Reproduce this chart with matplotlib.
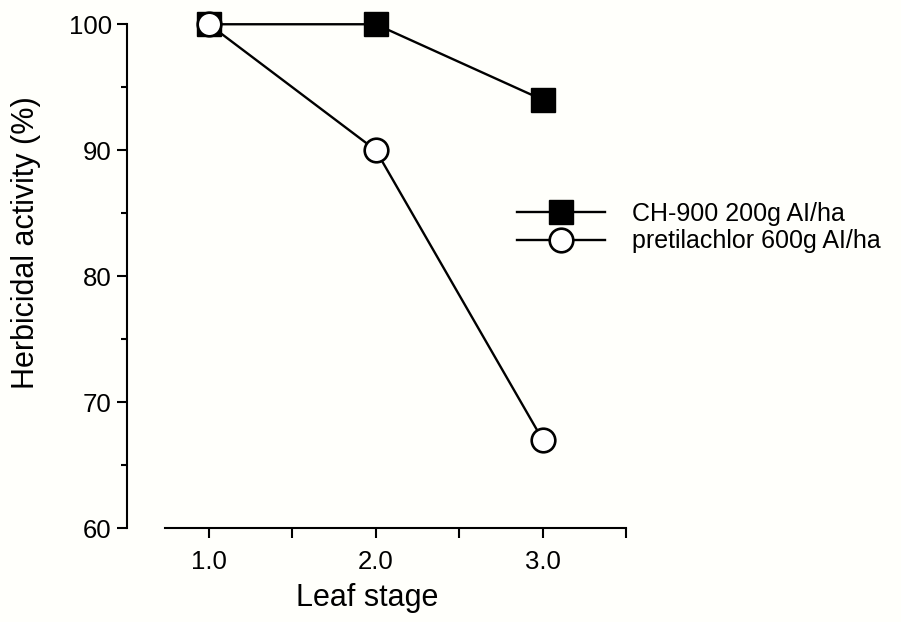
import matplotlib
matplotlib.use("Agg")
import matplotlib.pyplot as plt
from matplotlib.ticker import MultipleLocator

plt.rcParams["font.family"] = ["Liberation Sans", "DejaVu Sans"]

# Daten
leaf_stage = [1.0, 2.0, 3.0]
ch900 = [100, 100, 94]
pretilachlor = [100, 90, 67]
x_ticks = [1.0, 1.5, 2.0, 2.5, 3.0, 3.5]
x_tick_labels = ["1.0", "", "2.0", "", "3.0", ""]
y_ticks = [60, 70, 80, 90, 100]

fig = plt.figure(figsize=(9.01, 6.22), dpi=100, facecolor="#fffffb")
ax = fig.add_axes([0.141, 0.151, 0.554, 0.810])
ax.set_facecolor("#fffffb")

ax.plot(leaf_stage, ch900, color="black", lw=1.7, marker="s", ms=17,
        mfc="black", mec="black", clip_on=False, zorder=3,
        label="CH-900 200g AI/ha")
ax.plot(leaf_stage, pretilachlor, color="black", lw=1.7, marker="o", ms=17,
        mfc="white", mec="black", mew=1.9, clip_on=False, zorder=4,
        label="pretilachlor 600g AI/ha")

ax.set_xlim(0.51, 3.5)
ax.set_ylim(60, 100)

# Achsen
for side in ["top", "right"]:
    ax.spines[side].set_visible(False)
ax.spines["left"].set_bounds(60, 100)
ax.spines["bottom"].set_bounds(0.74, 3.5)
ax.spines["left"].set_linewidth(1.5)
ax.spines["bottom"].set_linewidth(1.5)

ax.set_xticks(x_ticks)
ax.set_xticklabels(x_tick_labels)
ax.set_yticks(y_ticks)
ax.yaxis.set_minor_locator(MultipleLocator(5))
ax.tick_params(axis="both", which="major", length=7, width=1.5, labelsize=18.5)
ax.tick_params(axis="x", pad=9)
ax.tick_params(axis="y", pad=4)
ax.tick_params(axis="y", which="minor", length=4.5, width=1.5)

ax.set_xlabel("Leaf stage", fontsize=22)
ax.set_ylabel("Herbicidal activity (%)", fontsize=22)
ax.xaxis.set_label_coords(0.481, -0.11)
ax.yaxis.set_label_coords(-0.172, 0.567)

ax.legend(loc="center left", bbox_to_anchor=(517 / 901, 1 - 227.5 / 622),
          bbox_transform=fig.transFigure, frameon=False, numpoints=1,
          fontsize=18, handlelength=3.5, handletextpad=1.1,
          labelspacing=0.15, borderpad=0, borderaxespad=0)

plt.savefig("out.png", dpi=100, facecolor=fig.get_facecolor())
plt.close()
